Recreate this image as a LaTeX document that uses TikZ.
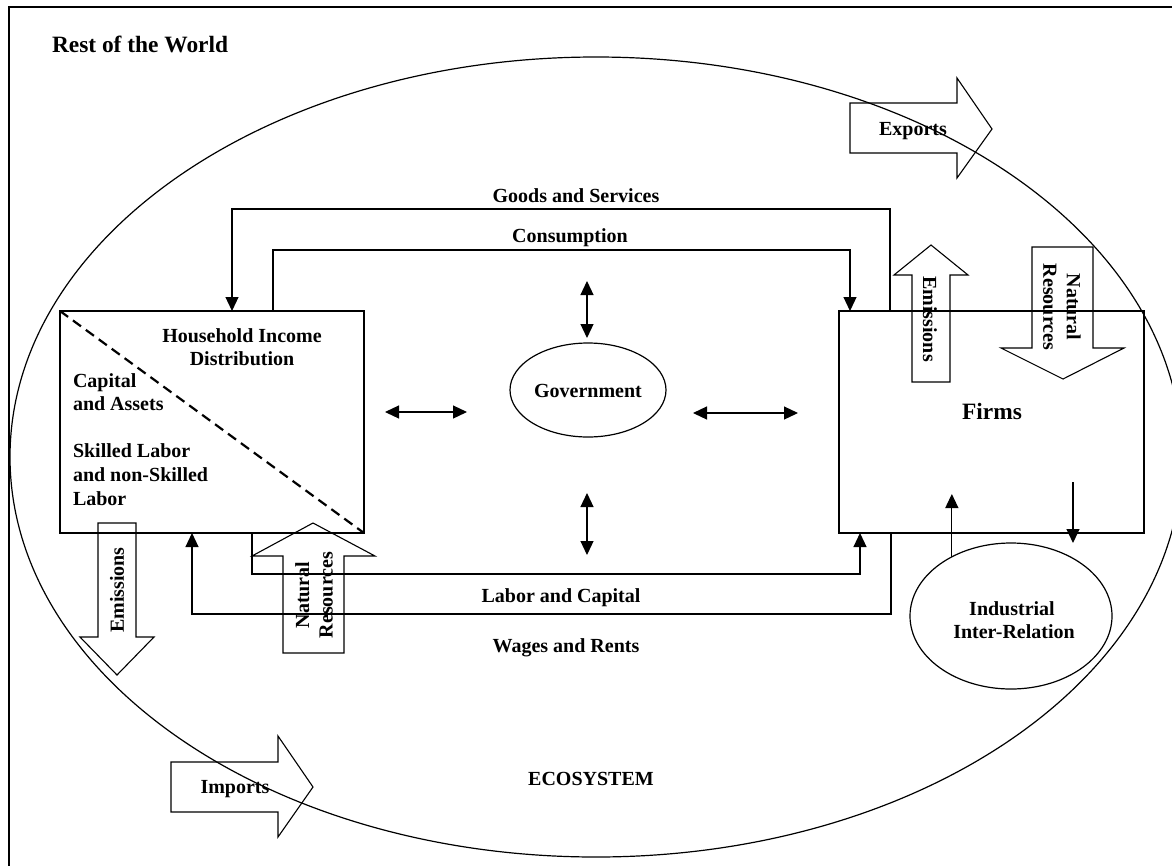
\documentclass[tikz,border=0pt]{standalone}
\usepackage{fontspec}
\setmainfont{Liberation Serif}
\usetikzlibrary{arrows.meta,shapes.geometric}
\begin{document}
\begin{tikzpicture}[x=1pt,y=-1pt,
  every node/.style={font=\bfseries\fontsize{20pt}{23.5pt}\selectfont, inner sep=0pt, outer sep=0pt},
  lbl/.style={anchor=base},
  big/.style={font=\bfseries\fontsize{23.4pt}{27pt}\selectfont},
  ln/.style={line width=1.2pt},
  arr/.style={ln,-{Triangle[length=14pt,width=13pt]}},
  darr/.style={ln,{Triangle[length=14pt,width=13pt]}-{Triangle[length=14pt,width=13pt]}},
  blk/.style={line width=1.1pt, line join=miter},
  box/.style={draw, rectangle, line width=1.2pt},
  oval/.style={draw, ellipse, line width=1.2pt}
]
\useasboundingbox (0,0) rectangle (1172,865);
\clip (0,0) rectangle (1172,865);

% outer frame (right and bottom edges lie outside the picture)
\draw[ln] (9,7) rectangle (1200,900);
\node[lbl, big, anchor=base west] (row) at (52,52) {Rest of the World};

% ecosystem ellipse
\node[oval, minimum width=1172pt, minimum height=800pt] (eco) at (596,457) {};
\node[lbl] (ecotext) at (591,785) {ECOSYSTEM};

% main boxes
\node[box, minimum width=304pt, minimum height=222pt] (hh) at (212,422) {};
\node[box, minimum width=305pt, minimum height=222pt] (firms) at (991.5,422) {};
\node[oval, minimum width=156pt, minimum height=94pt] (gov) at (588,390) {};
\node[oval, minimum width=202pt, minimum height=146pt] (ind) at (1011,616) {};

% household contents
\draw[line width=2.2pt, dash pattern=on 10pt off 6pt] (hh.north west) -- (hh.south east);
\node[lbl] (hh1) at (242,342) {Household Income};
\node[lbl] (hh2) at (242,365) {Distribution};
\node[lbl, anchor=base west] (ca1) at (73,387) {Capital};
\node[lbl, anchor=base west] (ca2) at (73,410) {and Assets};
\node[lbl, anchor=base west] (sl1) at (73,457) {Skilled Labor};
\node[lbl, anchor=base west] (sl2) at (73,481) {and non-Skilled};
\node[lbl, anchor=base west] (sl3) at (73,505) {Labor};

% other labels
\node[lbl, big] (firmstext) at (992,419) {Firms};
\node[lbl] (govtext) at (588,397) {Government};
\node[lbl] (ind1) at (1012,615) {Industrial};
\node[lbl] (ind2) at (1014,638) {Inter-Relation};

% flow connectors
\draw[arr] ([xshift=51pt]firms.north west) -- ++(0,-102) -| ([xshift=172pt]hh.north west);
\node[lbl] (gs) at (576,202) {Goods and Services};
\draw[arr] ([xshift=213pt]hh.north west) -- ++(0,-61) -| ([xshift=11pt]firms.north west);
\node[lbl] (cons) at (570,242) {Consumption};
\draw[arr] ([xshift=192pt]hh.south west) -- ++(0,41) -| ([xshift=21pt]firms.south west);
\node[lbl] (lc) at (561,602) {Labor and Capital};
\draw[arr] ([xshift=52pt]firms.south west) -- ++(0,81) -| ([xshift=132pt]hh.south west);
\node[lbl] (wr) at (566,652) {Wages and Rents};

% government double arrows
\coordinate (gt1) at (587,281); \coordinate (gt2) at (587,338);
\coordinate (gb1) at (587,493); \coordinate (gb2) at (587,555);
\coordinate (gl1) at (385,412); \coordinate (gl2) at (467,412);
\coordinate (gr1) at (693,413); \coordinate (gr2) at (798,413);
\draw[darr] (gt1) -- (gt2);
\draw[darr] (gb1) -- (gb2);
\draw[darr] (gl1) -- (gl2);
\draw[darr] (gr1) -- (gr2);

% industrial inter-relation arrows
\coordinate (iu) at (951,494);
\draw[arr] (ind.135) -- (ind.135 |- iu);
\coordinate (id1) at (1073,482); \coordinate (id2) at (1073,543);
\draw[arr] (id1) -- (id2);

% block arrows
% Exports
\draw[blk] (850,103) -- (957,103) -- (957,78) -- (992,129) -- (957,178) -- (957,153) -- (850,153) -- cycle;
\node[lbl] (exp) at (913,135) {Exports};
% Imports
\draw[blk] (171,762) -- (278,762) -- (278,736) -- (313,787) -- (278,837) -- (278,812) -- (171,812) -- cycle;
\node[lbl] (imp) at (235,793) {Imports};
% Firms emissions (up)
\draw[blk] (912,382) -- (912,275) -- (894,275) -- (931,245) -- (968,275) -- (950,275) -- (950,382) -- cycle;
\node[rotate=-90] (femi) at (930,319) {Emissions};
% Firms natural resources (down)
\draw[blk] (1032,247) -- (1093,247) -- (1093,348) -- (1124,348) -- (1063,379) -- (1001,348) -- (1032,348) -- cycle;
\node[rotate=-90, align=center] (fnr) at (1062,307) {Natural\\Resources};
% Household emissions (down)
\draw[blk] (98,523) -- (136,523) -- (136,637) -- (154,637) -- (117,675) -- (80,637) -- (98,637) -- cycle;
\node[rotate=90] (hemi) at (117,590) {Emissions};
% Household natural resources (up)
\draw[blk] (283,653) -- (283,556) -- (252,556) -- (313,523) -- (375,556) -- (344,556) -- (344,653) -- cycle;
\node[rotate=90, align=center] (hnr) at (314,595) {Natural\\Resources};
\end{tikzpicture}
\end{document}
